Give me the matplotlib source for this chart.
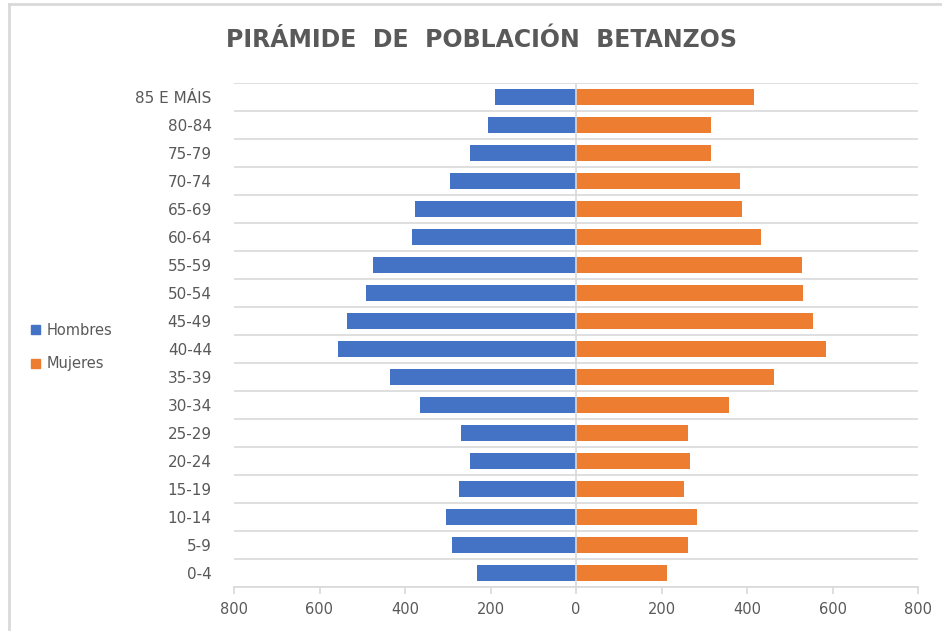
"""Pirámide de población de Betanzos: hombres a la izquierda, mujeres a la derecha."""

import matplotlib.pyplot as plt
import numpy as np
from matplotlib.lines import Line2D
from matplotlib.patches import Patch
from matplotlib.ticker import FuncFormatter, MultipleLocator

GROUPS = ["0-4", "5-9", "10-14", "15-19", "20-24", "25-29", "30-34", "35-39",
          "40-44", "45-49", "50-54", "55-59", "60-64", "65-69", "70-74",
          "75-79", "80-84", "85 E MÁIS"]
HOMBRES = [231, 290, 304, 273, 248, 268, 364, 436, 556, 536, 491, 474,
           384, 377, 295, 248, 206, 189]
MUJERES = [213, 262, 282, 253, 267, 262, 359, 463, 584, 555, 531, 529,
           432, 388, 384, 316, 316, 416]

BLUE = "#4472C4"
ORANGE = "#ED7D31"
GREY_TEXT = "#595959"
GRID = "#d9d9d9"


def main() -> None:
    fig = plt.figure(figsize=(9.42, 6.31), dpi=100)
    ax = fig.add_axes((234 / 942, 1 - 587 / 631, (918 - 234) / 942, (587 - 83) / 631))

    y = np.arange(len(GROUPS))
    ax.barh(y, -np.array(HOMBRES), height=0.56, color=BLUE, zorder=3)
    ax.barh(y, MUJERES, height=0.56, color=ORANGE, zorder=3)
    ax.axvline(0, color=GRID, linewidth=1.2, zorder=4)

    ax.set_xlim(-800, 800)
    ax.set_ylim(-0.5, len(GROUPS) - 0.5)
    ax.xaxis.set_major_locator(MultipleLocator(200))
    ax.xaxis.set_major_formatter(FuncFormatter(lambda v, _: f"{abs(int(v))}"))
    ax.set_yticks(y)
    ax.set_yticklabels(GROUPS)
    ax.yaxis.set_minor_locator(MultipleLocator(1, offset=0.5))
    ax.grid(axis="y", which="minor", color=GRID, linewidth=1.2, zorder=0)

    for side in ("top", "right", "left"):
        ax.spines[side].set_visible(False)
    ax.spines["bottom"].set_color(GRID)
    ax.spines["bottom"].set_linewidth(1.2)
    ax.tick_params(axis="x", colors=GRID, labelcolor=GREY_TEXT, labelsize=10.5,
                   length=5, width=1.2, pad=6)
    ax.tick_params(axis="y", which="both", length=0, labelcolor=GREY_TEXT,
                   labelsize=11, pad=16)

    fig.text(481 / 942, 1 - 40 / 631, "PIRÁMIDE  DE  POBLACIÓN  BETANZOS",
             ha="center", va="center", fontsize=17, fontweight="bold",
             family="DejaVu Sans", color=GREY_TEXT)

    handles = [Patch(color=BLUE, label="Hombres"), Patch(color=ORANGE, label="Mujeres")]
    fig.legend(handles=handles, loc="center left", bbox_to_anchor=(18 / 942, 1 - 347 / 631),
               frameon=False, handlelength=0.6, handleheight=0.6, handletextpad=0.45,
               labelspacing=1.3, labelcolor=GREY_TEXT, fontsize=10.5)

    # light frame visible along the left and top edge of the screenshot
    fig.add_artist(Line2D([9 / 942, 9 / 942], [0, 1 - 4 / 631], color=GRID, linewidth=2))
    fig.add_artist(Line2D([9 / 942, 1], [1 - 4 / 631, 1 - 4 / 631], color=GRID, linewidth=2))

    fig.savefig("out.png", dpi=100)
    plt.close(fig)


if __name__ == "__main__":
    main()
